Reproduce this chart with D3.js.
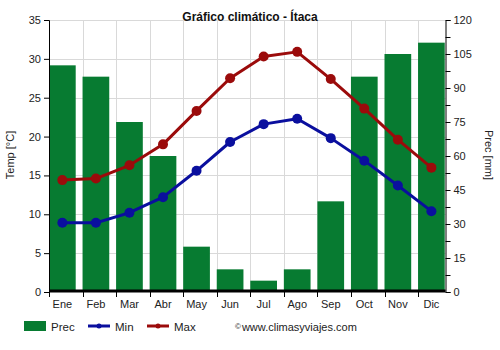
<!DOCTYPE html>
<html>
<head>
<meta charset="utf-8">
<script src="https://cdn.jsdelivr.net/npm/d3@7"></script>
<style>
  html, body { margin: 0; padding: 0; background: #fff; }
  svg { display: block; font-family: "Liberation Sans", Arial, sans-serif; }
</style>
</head>
<body>
<svg id="chart" width="500" height="350"></svg>
<script>
// Monthly climate data for Ítaca
const months = ["Ene", "Feb", "Mar", "Abr", "May", "Jun", "Jul", "Ago", "Sep", "Oct", "Nov", "Dic"];
const precip = [100, 95, 75, 60, 20, 10, 5, 10, 40, 95, 105, 110];
const tempMin = [8.9, 8.9, 10.2, 12.2, 15.6, 19.3, 21.6, 22.3, 19.8, 16.9, 13.7, 10.4];
const tempMax = [14.4, 14.6, 16.3, 19.0, 23.3, 27.5, 30.3, 30.9, 27.4, 23.6, 19.6, 16.0];
const tempTicks = [0, 5, 10, 15, 20, 25, 30, 35];
const precTicks = [0, 15, 30, 45, 60, 75, 90, 105, 120];

const colPrec = "#077b31";
const colMin = "#0a0f9e";
const colMax = "#9b0b0b";

const svg = d3.select("#chart");
const plotL = 49, plotR = 445.5, plotT = 20, plotB = 292;

// Each month occupies a step; the bar sits at the start of its step
const step = 33.55;
const barW = 26.7;
const x = d3.scaleBand().domain(months).range([plotL, plotL + step * 12]).padding(0);
const xc = m => x(m) + barW / 2;

const yT = d3.scaleLinear().domain([0, 35]).range([plotB, plotT]);
const yP = d3.scaleLinear().domain([0, 120]).range([plotB, plotT]);

// Grid lines
const grid = svg.append("g");
grid.selectAll("line.h").data(tempTicks.slice(1)).join("line")
  .attr("x1", plotL).attr("x2", plotR)
  .attr("y1", d => Math.round(yT(d)) + 0.5).attr("y2", d => Math.round(yT(d)) + 0.5)
  .attr("stroke", "#d9d9d9").attr("stroke-width", 1);
grid.selectAll("line.v").data(months.slice(1)).join("line")
  .attr("x1", d => Math.round(x(d)) + 0.5).attr("x2", d => Math.round(x(d)) + 0.5)
  .attr("y1", plotT).attr("y2", plotB)
  .attr("stroke", "#d9d9d9").attr("stroke-width", 1);

// Precipitation bars
svg.append("g").selectAll("rect").data(precip).join("rect")
  .attr("x", (d, i) => x(months[i]))
  .attr("width", barW)
  .attr("y", d => yP(d))
  .attr("height", d => yP(0) - yP(d))
  .attr("fill", colPrec);

// Baseline
svg.append("line")
  .attr("x1", plotL).attr("x2", plotR)
  .attr("y1", plotB - 1).attr("y2", plotB - 1)
  .attr("stroke", "#000").attr("stroke-width", 3);

// Left axis (temperature)
const axL = svg.append("g").attr("transform", `translate(${plotL},0)`)
  .call(d3.axisLeft(yT).tickValues(tempTicks).tickSize(5).tickPadding(3));
// Right axis (precipitation) with minor ticks between labels
const axR = svg.append("g").attr("transform", `translate(${plotR},0)`)
  .call(d3.axisRight(yP).tickValues(d3.range(0, 121, 7.5)).tickSize(5).tickPadding(3)
    .tickFormat(d => precTicks.includes(d) ? d : ""));
// Bottom axis (months)
const axB = svg.append("g").attr("transform", `translate(0,${plotB})`)
  .call(d3.axisBottom(x).tickSize(0).tickPadding(8));
axB.selectAll(".tick text").attr("x", barW / 2 - step / 2);
axB.select(".domain").remove();
svg.append("g").selectAll("line").data(months).join("line")
  .attr("x1", d => Math.round(x(d)) + 0.5).attr("x2", d => Math.round(x(d)) + 0.5)
  .attr("y1", plotB).attr("y2", plotB + 5)
  .attr("stroke", "#000");

[axL, axR, axB].forEach(a => {
  a.selectAll("text").attr("font-size", 11).attr("fill", "#222")
    .attr("font-family", "\"Liberation Sans\", Arial, sans-serif");
  a.selectAll(".domain").attr("stroke", "#000");
  a.selectAll(".tick line").attr("stroke", "#000");
});

// Temperature lines
function series(vals, color) {
  const line = d3.line().x((d, i) => xc(months[i])).y(d => yT(d));
  svg.append("path").datum(vals).attr("d", line)
    .attr("fill", "none").attr("stroke", color).attr("stroke-width", 3)
    .attr("stroke-linejoin", "round");
  svg.append("g").selectAll("circle").data(vals).join("circle")
    .attr("cx", (d, i) => xc(months[i])).attr("cy", d => yT(d))
    .attr("r", 5).attr("fill", color);
}
series(tempMin, colMin);
series(tempMax, colMax);

// Title and axis titles
svg.append("text").attr("x", 250).attr("y", 21).attr("text-anchor", "middle")
  .attr("font-size", 12).attr("font-weight", "bold").attr("fill", "#111")
  .text("Gráfico climático - Ítaca");
svg.append("text").attr("transform", "translate(14,155) rotate(-90)")
  .attr("text-anchor", "middle").attr("font-size", 11).attr("fill", "#222")
  .text("Temp [°C]");
svg.append("text").attr("transform", "translate(485,155) rotate(90)")
  .attr("text-anchor", "middle").attr("font-size", 11).attr("fill", "#222")
  .text("Prec [mm]");

// Legend
const lg = svg.append("g").attr("font-size", 11.5).attr("fill", "#222");
lg.append("rect").attr("x", 24).attr("y", 321).attr("width", 22).attr("height", 10).attr("fill", colPrec);
lg.append("text").attr("x", 51).attr("y", 330.5).text("Prec");
[[88, colMin, "Min"], [147, colMax, "Max"]].forEach(([lx, c, t]) => {
  lg.append("line").attr("x1", lx).attr("x2", lx + 22).attr("y1", 326).attr("y2", 326)
    .attr("stroke", c).attr("stroke-width", 3);
  lg.append("circle").attr("cx", lx + 11).attr("cy", 326).attr("r", 2.5).attr("fill", c);
  lg.append("text").attr("x", lx + 27).attr("y", 330.5).text(t);
});
const credit = svg.append("text").attr("x", 235).attr("y", 330.5).attr("fill", "#222");
credit.append("tspan").attr("font-size", 8).attr("dy", -2).text("\u00a9");
credit.append("tspan").attr("font-size", 11).attr("dy", 2).attr("dx", 1).text("www.climasyviajes.com");
</script>
</body>
</html>
